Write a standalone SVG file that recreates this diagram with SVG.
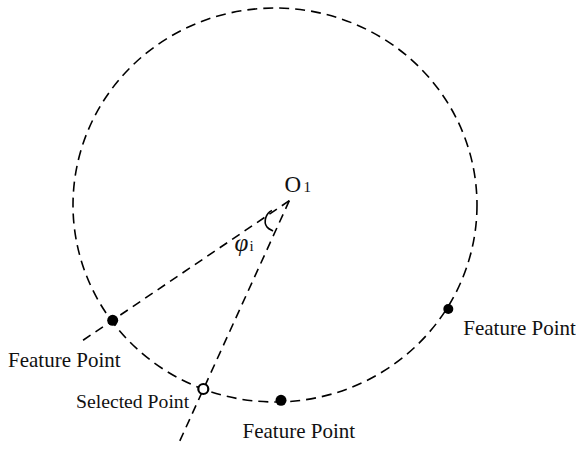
<svg xmlns="http://www.w3.org/2000/svg" width="576" height="449" viewBox="0 0 576 449">
<style>
.dash{fill:none;stroke:#000;stroke-width:1.6;stroke-dasharray:10 6}
.ray{fill:none;stroke:#000;stroke-width:1.6;stroke-dasharray:9 6}
.lbl{font-family:"Liberation Serif","Times New Roman",serif;font-size:21px;fill:#111}
.big{font-size:23px}
.phi{font-size:25px}
.sub{font-size:15px}
.sel{font-size:19.7px}
.it{font-style:italic}
.fp{fill:#000}
</style>
<rect width="576" height="449" fill="#fff"/>
<g id="circle">
<ellipse class="dash" cx="275" cy="205" rx="202" ry="197"/>
</g>
<g id="connectors">
<line class="ray" x1="289.3" y1="200.7" x2="79" y2="343"/>
<line class="ray" x1="289.3" y1="200.7" x2="177.5" y2="446"/>
<path d="M272,210.5 C266,213 263,222 267,227 C268.5,229 271,230 273,231" fill="none" stroke="#000" stroke-width="1.6"/>
</g>
<g id="O1">
<text class="lbl big" x="284.5" y="192">O</text>
<text class="lbl sub" x="303.5" y="192">1</text>
</g>
<g id="phi">
<text class="lbl phi it" x="234.5" y="250.5">φ</text>
<text class="lbl sub" x="249.5" y="251">i</text>
</g>
<g id="fp-left">
<circle class="fp" cx="112.7" cy="320.3" r="5.5"/>
<text class="lbl" x="8" y="367">Feature Point</text>
</g>
<g id="selected">
<circle cx="203.3" cy="389" r="5" fill="#fff" stroke="#000" stroke-width="2.2"/>
<text class="lbl sel" x="76" y="408">Selected Point</text>
</g>
<g id="fp-bottom">
<circle class="fp" cx="281" cy="400.3" r="5.5"/>
<text class="lbl" x="242.5" y="437.5">Feature Point</text>
</g>
<g id="fp-right">
<circle class="fp" cx="448.3" cy="309" r="5"/>
<text class="lbl" x="463.3" y="335">Feature Point</text>
</g>
</svg>
